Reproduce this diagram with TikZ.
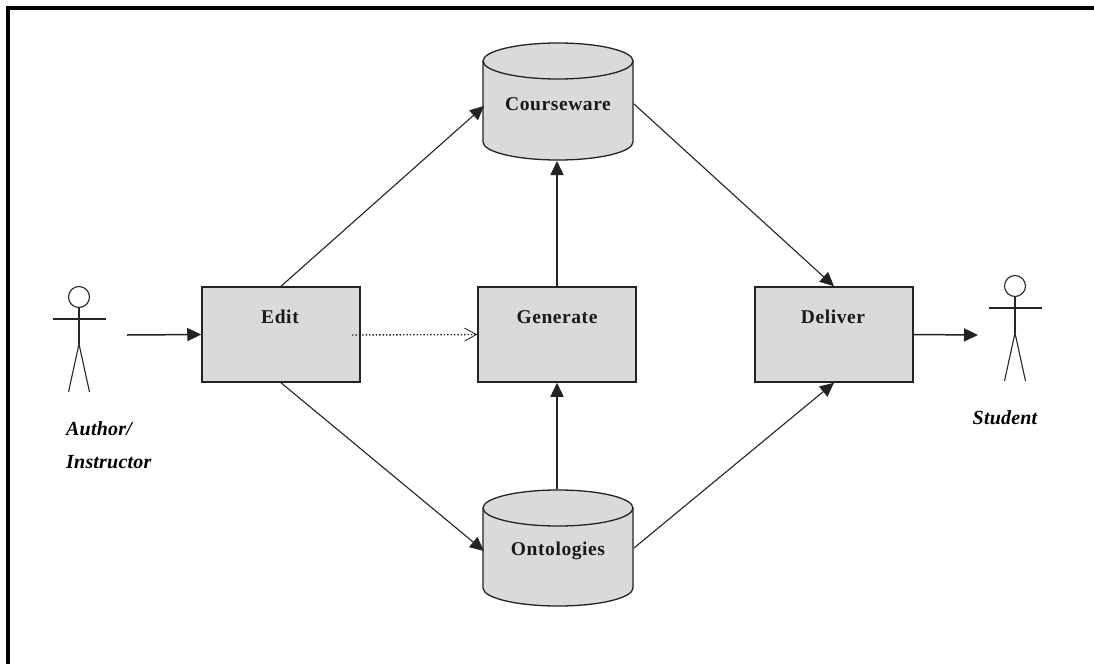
\documentclass[tikz,border=0pt]{standalone}
\usepackage{fontspec}
\setmainfont{Liberation Serif}
\usetikzlibrary{arrows.meta,positioning}
\definecolor{boxgray}{RGB}{218,218,218}
\definecolor{inkc}{RGB}{35,35,35}
\tikzset{
  x=1pt,y=-1pt,
  procbox/.style={draw=inkc,fill=boxgray,line width=1.5pt,minimum width=158pt,minimum height=95pt,inner sep=0pt},
  boxlabel/.style={font=\fontsize{19.5}{22}\selectfont\bfseries\addfontfeature{LetterSpace=3},text=black!90,inner sep=0pt},
  actorlabel/.style={font=\fontsize{20}{33}\selectfont\bfseries\itshape\addfontfeature{LetterSpace=1},text=black,inner sep=0pt,align=left},
  solidhead/.style={-{Triangle[length=14pt,width=13pt]},draw=inkc,line width=1.1pt},
  thickconn/.style={-{Triangle[length=14pt,width=13pt]},draw=inkc,line width=1.5pt},
  openhead/.style={-{Straight Barb[length=12pt,width=13pt,line width=.8pt]},draw=inkc,line width=1.4pt,dotted},
  cylpath/.style={draw=inkc,fill=boxgray,line width=1.3pt},
  actorline/.style={draw=black!85,line width=1.1pt},
}
\newcommand{\cylinderfig}[4]{% cx, top ellipse centre y, bottom arc centre y, ry
  \path[cylpath] (#1-75,#2) arc[start angle=180,end angle=360,x radius=75,y radius=#4]
    -- (#1+75,#3) arc[start angle=0,end angle=180,x radius=75,y radius=#4] -- cycle;
  \draw[draw=inkc,line width=1.3pt] (#1-75,#2) arc[start angle=180,end angle=0,x radius=75,y radius=#4];
}
\newcommand{\actorfig}[2]{% cx, head centre y
  \draw[actorline] (#1,#2) circle[radius=10.5];
  \draw[actorline] (#1,#2+10.5) -- (#1,#2+47);
  \draw[actorline] (#1-26.5,#2+22) -- (#1+26.5,#2+22);
  \draw[actorline] (#1,#2+47) -- (#1-10.5,#2+95);
  \draw[actorline] (#1,#2+47) -- (#1+10.5,#2+95);
}
\begin{document}
\begin{tikzpicture}
\useasboundingbox (0,0) rectangle (1094,664);
\fill[white] (0,0) rectangle (1094,664);
\draw[black,line width=4pt] (8,664) -- (8,8) -- (1094,8);
\cylinderfig{558}{61}{142}{18}
\cylinderfig{558}{508}{588}{18}
\node[procbox] (edit) at (281,334.5) {};
\node[procbox] (gen) at (557,334.5) {};
\node[procbox] (del) at (834,334.5) {};
\coordinate (cwL) at (484,106);
\coordinate (cwR) at (634,104);
\coordinate (cwB) at (557,161);
\coordinate (onT) at (557,489);
\coordinate (onL) at (484,551);
\coordinate (onR) at (634,548);
\coordinate (dotstart) at (352,335);
\coordinate (a1) at (127,335);
\coordinate (s1) at (978,335);
\node[boxlabel] (editL) at (280,317) {Edit};
\node[boxlabel] (genL) at (557,317) {Generate};
\node[boxlabel] (delL) at (833,317) {Deliver};
\node[boxlabel] (cwLab) at (558,104) {Courseware};
\node[boxlabel] (onLab) at (558,551) {Ontologies};
\actorfig{79}{297}
\actorfig{1015}{286}
\node[actorlabel,anchor=north west] (auth) at (66,421) {Author/\\Instructor};
\node[actorlabel] (stud) at (1005,418) {Student};
\draw[thickconn] (a1) -- (edit.west);
\draw[thickconn] (del.east) -- (s1);
\draw[openhead] (dotstart) -- (gen.west);
\draw[solidhead] (edit.north) -- (cwL);
\draw[solidhead] (edit.south) -- (onL);
\draw[solidhead] (cwR) -- (del.north);
\draw[solidhead] (onR) -- (del.south);
\draw[thickconn] (gen.north) -- (cwB);
\draw[thickconn] (onT) -- (gen.south);
\end{tikzpicture}
\end{document}
